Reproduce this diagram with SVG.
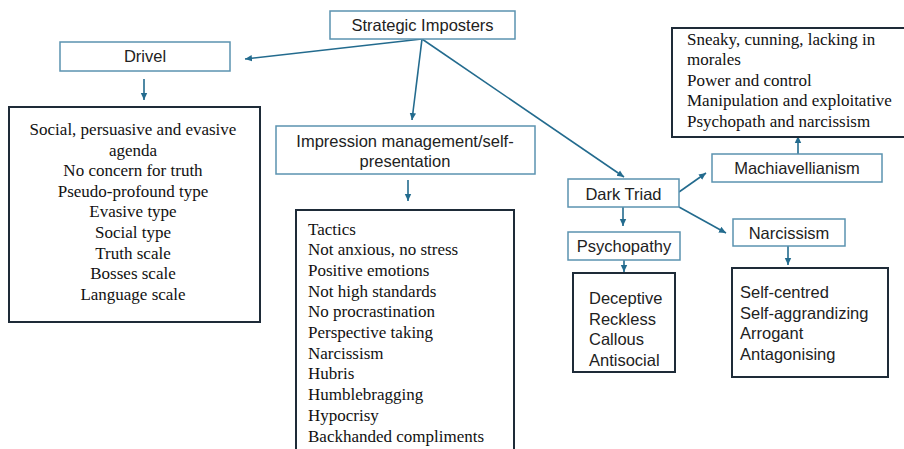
<svg xmlns="http://www.w3.org/2000/svg" width="904" height="449" viewBox="0 0 904 449">
<style>
.lb{fill:#fff;stroke:#5b93b0;stroke-width:1.5}
.db{fill:#fff;stroke:#1e2b38;stroke-width:2}
.s{font-family:"Liberation Sans",Arial,sans-serif;font-size:16.5px;fill:#222}
.t{font-family:"Liberation Serif","Times New Roman",serif;font-size:17px;fill:#111}
.c{stroke:#236b8e;stroke-width:1.6;fill:none}
</style>
<defs>
<marker id="ah" markerWidth="8" markerHeight="8" refX="7" refY="4" orient="auto" markerUnits="userSpaceOnUse">
<path d="M0,0.8 L7,4 L0,7.2 Z" fill="#236b8e"/>
</marker>
</defs>
<rect width="904" height="449" fill="#fff"/>
<g id="connectors">
<line class="c" x1="422" y1="39" x2="245" y2="59" marker-end="url(#ah)"/>
<line class="c" x1="422" y1="39" x2="412" y2="120" marker-end="url(#ah)"/>
<line class="c" x1="422" y1="39" x2="624" y2="177" marker-end="url(#ah)"/>
<line class="c" x1="144" y1="79" x2="144" y2="100" marker-end="url(#ah)"/>
<line class="c" x1="408" y1="180" x2="408" y2="201" marker-end="url(#ah)"/>
<line class="c" x1="679" y1="192" x2="706" y2="173" marker-end="url(#ah)"/>
<line class="c" x1="798" y1="154" x2="798" y2="136" marker-end="url(#ah)"/>
<line class="c" x1="623" y1="207" x2="623" y2="226" marker-end="url(#ah)"/>
<line class="c" x1="679" y1="207" x2="726" y2="233" marker-end="url(#ah)"/>
<line class="c" x1="624" y1="260" x2="624" y2="272" marker-end="url(#ah)"/>
<line class="c" x1="788" y1="246" x2="788" y2="265" marker-end="url(#ah)"/>
</g>
<g id="strategic">
<rect class="lb" x="330" y="11" width="185" height="28"/>
<text class="s" x="422.5" y="31" text-anchor="middle">Strategic Imposters</text>
</g>
<g id="drivel">
<rect class="lb" x="60" y="42" width="170" height="29"/>
<text class="s" x="145" y="62" text-anchor="middle">Drivel</text>
</g>
<g id="drivel-list">
<rect class="db" x="9" y="107" width="251" height="215"/>
<g class="t" text-anchor="middle">
<text x="133" y="135">Social, persuasive and evasive</text>
<text x="133" y="155.6">agenda</text>
<text x="133" y="176.2">No concern for truth</text>
<text x="133" y="196.8">Pseudo-profound type</text>
<text x="133" y="217.4">Evasive type</text>
<text x="133" y="238">Social type</text>
<text x="133" y="258.6">Truth scale</text>
<text x="133" y="279.2">Bosses scale</text>
<text x="133" y="299.8">Language scale</text>
</g>
</g>
<g id="impression">
<rect class="lb" x="276" y="126" width="259" height="48"/>
<text class="s" x="405" y="146.5" text-anchor="middle">Impression management/self-</text>
<text class="s" x="405" y="166.5" text-anchor="middle">presentation</text>
</g>
<g id="tactics">
<rect class="db" x="296" y="210" width="218" height="250"/>
<g class="t">
<text x="308" y="234.5">Tactics</text>
<text x="308" y="255.2">Not anxious, no stress</text>
<text x="308" y="275.9">Positive emotions</text>
<text x="308" y="296.6">Not high standards</text>
<text x="308" y="317.3">No procrastination</text>
<text x="308" y="338">Perspective taking</text>
<text x="308" y="358.7">Narcissism</text>
<text x="308" y="379.4">Hubris</text>
<text x="308" y="400.1">Humblebragging</text>
<text x="308" y="420.8">Hypocrisy</text>
<text x="308" y="441.5">Backhanded compliments</text>
</g>
</g>
<g id="dark-triad">
<rect class="lb" x="568" y="179" width="111" height="28"/>
<text class="s" x="623.5" y="199.5" text-anchor="middle">Dark Triad</text>
</g>
<g id="machiavellianism">
<rect class="lb" x="712" y="154" width="170" height="28"/>
<text class="s" x="797" y="174" text-anchor="middle">Machiavellianism</text>
</g>
<g id="mach-list">
<rect class="db" x="672" y="28" width="240" height="109"/>
<g class="t">
<text x="687" y="44.5">Sneaky, cunning, lacking in</text>
<text x="687" y="65">morales</text>
<text x="687" y="85.5">Power and control</text>
<text x="687" y="106">Manipulation and exploitative</text>
<text x="687" y="126.5">Psychopath and narcissism</text>
</g>
</g>
<g id="psychopathy">
<rect class="lb" x="568" y="232" width="112" height="28"/>
<text class="s" x="624" y="252" text-anchor="middle">Psychopathy</text>
</g>
<g id="psychopathy-list">
<rect class="db" x="573" y="273" width="102" height="99"/>
<g class="s">
<text x="589" y="304">Deceptive</text>
<text x="589" y="324.5">Reckless</text>
<text x="589" y="345">Callous</text>
<text x="589" y="365.5">Antisocial</text>
</g>
</g>
<g id="narcissism">
<rect class="lb" x="733" y="219" width="112" height="27"/>
<text class="s" x="789" y="238.5" text-anchor="middle">Narcissism</text>
</g>
<g id="narcissism-list">
<rect class="db" x="732" y="268" width="156" height="109"/>
<g class="s">
<text x="740" y="298">Self-centred</text>
<text x="740" y="318.5">Self-aggrandizing</text>
<text x="740" y="339">Arrogant</text>
<text x="740" y="359.5">Antagonising</text>
</g>
</g>
</svg>
